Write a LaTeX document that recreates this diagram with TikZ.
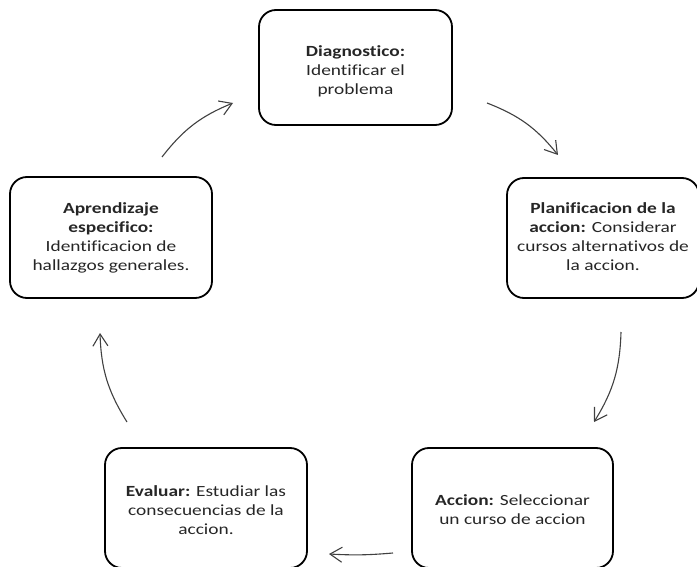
\documentclass[tikz,border=0pt]{standalone}
\usepackage{fontspec}
\setmainfont[FakeStretch=1.25,Ligatures=NoCommon]{Carlito}
\usetikzlibrary{arrows.meta}
\begin{document}
\begin{tikzpicture}[x=1pt,y=-1pt,
  stepbox/.style={draw=black, line width=1.8pt, rounded corners=17pt},
  steptext/.style={align=center, text=black!85, inner sep=0pt,
    font=\fontsize{15.5}{19}\selectfont},
  cyclearrow/.style={-{Straight Barb[length=12pt,width=15pt]},
    line width=1.1pt, draw=black!75}]
  \useasboundingbox (0,0) rectangle (697,567);
  \clip (0,0) rectangle (697,567);

  % the five stages of the cycle
  \node[stepbox, minimum width=193pt, minimum height=115pt,
    label={[steptext, yshift=-4pt]center:{\textbf{Diagnostico:}\\Identificar el\\problema}}]
    (diag) at (355.5,67.5) {};
  \node[stepbox, minimum width=192pt, minimum height=120pt,
    label={[steptext, yshift=1pt]center:{\textbf{Planificacion de la}\\\textbf{accion:} Considerar\\cursos alternativos de\\la accion.}}]
    (plan) at (603,238) {};
  \node[stepbox, minimum width=202pt, minimum height=121pt,
    label={[steptext, yshift=-0.5pt]center:{\textbf{Aprendizaje}\\\textbf{especifico:}\\Identificacion de\\hallazgos generales.}}]
    (apre) at (111,237.5) {};
  \node[stepbox, minimum width=202pt, minimum height=120pt,
    label={[steptext, yshift=-2pt]center:{\textbf{Evaluar:} Estudiar las\\consecuencias de la\\accion.}}]
    (eval) at (206,508) {};
  \node[stepbox, minimum width=201pt, minimum height=120pt,
    label={[steptext, yshift=-1.5pt]center:{\textbf{Accion:} Seleccionar\\un curso de accion}}]
    (acc) at (512.5,508) {};

  % end points of the arrows between the stages
  \coordinate (a1s) at (162,157); \coordinate (a1e) at (233,103);
  \coordinate (a2s) at (487,103); \coordinate (a2e) at (558,155);
  \coordinate (a3s) at (621,332); \coordinate (a3e) at (594,422);
  \coordinate (a4s) at (393,553); \coordinate (a4e) at (329,554);
  \coordinate (a5s) at (127,422); \coordinate (a5e) at (100,333);

  \draw[cyclearrow] (a1s) to[bend left=15] (a1e);
  \draw[cyclearrow] (a2s) to[bend left=15] (a2e);
  \draw[cyclearrow] (a3s) to[bend left=15] (a3e);
  \draw[cyclearrow] (a4s) to[bend left=4] (a4e);
  \draw[cyclearrow] (a5s) to[bend left=15] (a5e);
\end{tikzpicture}
\end{document}
